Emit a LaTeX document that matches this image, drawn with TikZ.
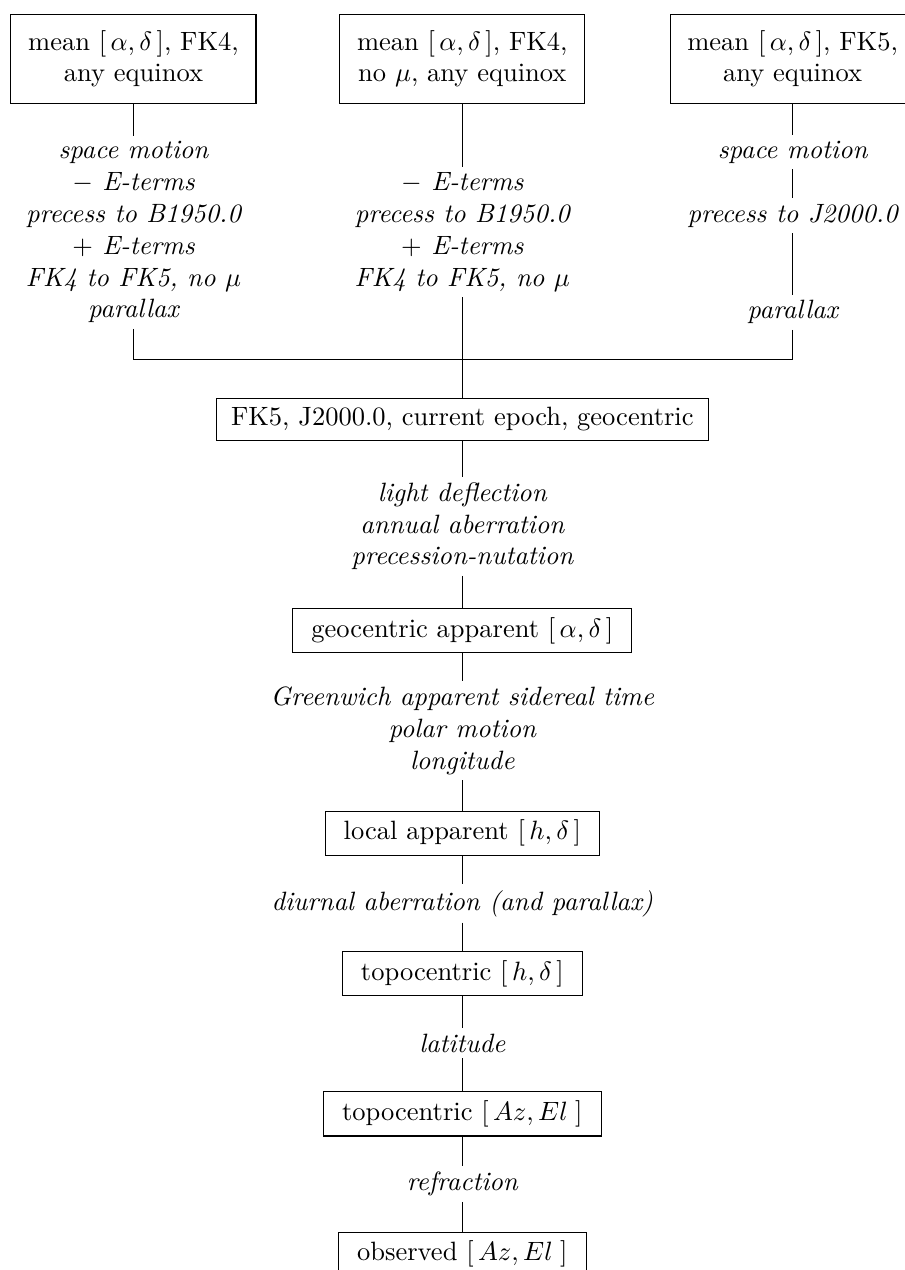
\documentclass[tikz,border=0pt]{standalone}
\usepackage{amsmath}
\begin{document}
\begin{tikzpicture}[box/.style={draw,align=center,inner xsep=7pt},
    topbox/.style={box,inner xsep=6.5pt,inner ysep=6pt},
    lbl/.style={align=center,font=\itshape,inner sep=2pt}]

    \useasboundingbox (0,0) rectangle (11.99,-16.84);

    \node[topbox] (fk4) at (1.77,-0.78) {mean $[\,\alpha,\delta\,]$, FK4,\\ any equinox};
    \node[topbox] (fk4nomu) at (6.13,-0.78) {mean $[\,\alpha,\delta\,]$, FK4,\\ no $\mu$, any equinox};
    \node[topbox] (fk5any) at (10.51,-0.78) {mean $[\,\alpha,\delta\,]$, FK5,\\ any equinox};

    \node[lbl] (l1) at (1.77,-3.08) {space motion\\ $-$ E-terms\\ precess to B1950.0\\ $+$ E-terms\\ FK4 to FK5, no $\mu$\\ parallax};
    \node[lbl] (l2) at (6.13,-3.08) {$-$ E-terms\\ precess to B1950.0\\ $+$ E-terms\\ FK4 to FK5, no $\mu$};
    \node[lbl] (l3a) at (10.51,-2.02) {space motion};
    \node[lbl] (l3b) at (10.51,-2.86) {precess to J2000.0};
    \node[lbl] (l3c) at (10.51,-4.14) {parallax};
    \coordinate (j) at (6.13,-4.77);

    \node[box,inner xsep=5.5pt] (fk5) at (6.13,-5.56) {FK5, J2000.0, current epoch, geocentric};
    \node[lbl] (l4) at (6.13,-6.98) {light deflection\\ annual aberration\\ precession-nutation};
    \node[box] (geo) at (6.13,-8.36) {geocentric apparent $[\,\alpha,\delta\,]$};
    \node[lbl] (l5) at (6.13,-9.69) {Greenwich apparent sidereal time\\ polar motion\\ longitude};
    \node[box] (loc) at (6.13,-11.05) {local apparent $[\,h,\delta\,]$};
    \node[lbl] (l6) at (6.13,-11.98) {diurnal aberration (and parallax)};
    \node[box] (topoh) at (6.13,-12.91) {topocentric $[\,h,\delta\,]$};
    \node[lbl] (l7) at (6.13,-13.83) {latitude};
    \node[box] (topoaz) at (6.13,-14.77) {topocentric $[\,Az,El\;]$};
    \node[lbl] (l8) at (6.13,-15.70) {refraction};
    \node[box] (obs) at (6.13,-16.63) {observed $[\,Az,El\;]$};

    \draw (fk4) -- (l1);
    \draw (l1) |- (j);
    \draw (fk4nomu) -- (l2);
    \draw (l2) -- (fk5);
    \draw (fk5any) -- (l3a) -- (l3b) -- (l3c);
    \draw (l3c) |- (j);

    \draw (fk5) -- (l4) -- (geo) -- (l5) -- (loc) -- (l6) -- (topoh) -- (l7) -- (topoaz) -- (l8) -- (obs);
\end{tikzpicture}
\end{document}
